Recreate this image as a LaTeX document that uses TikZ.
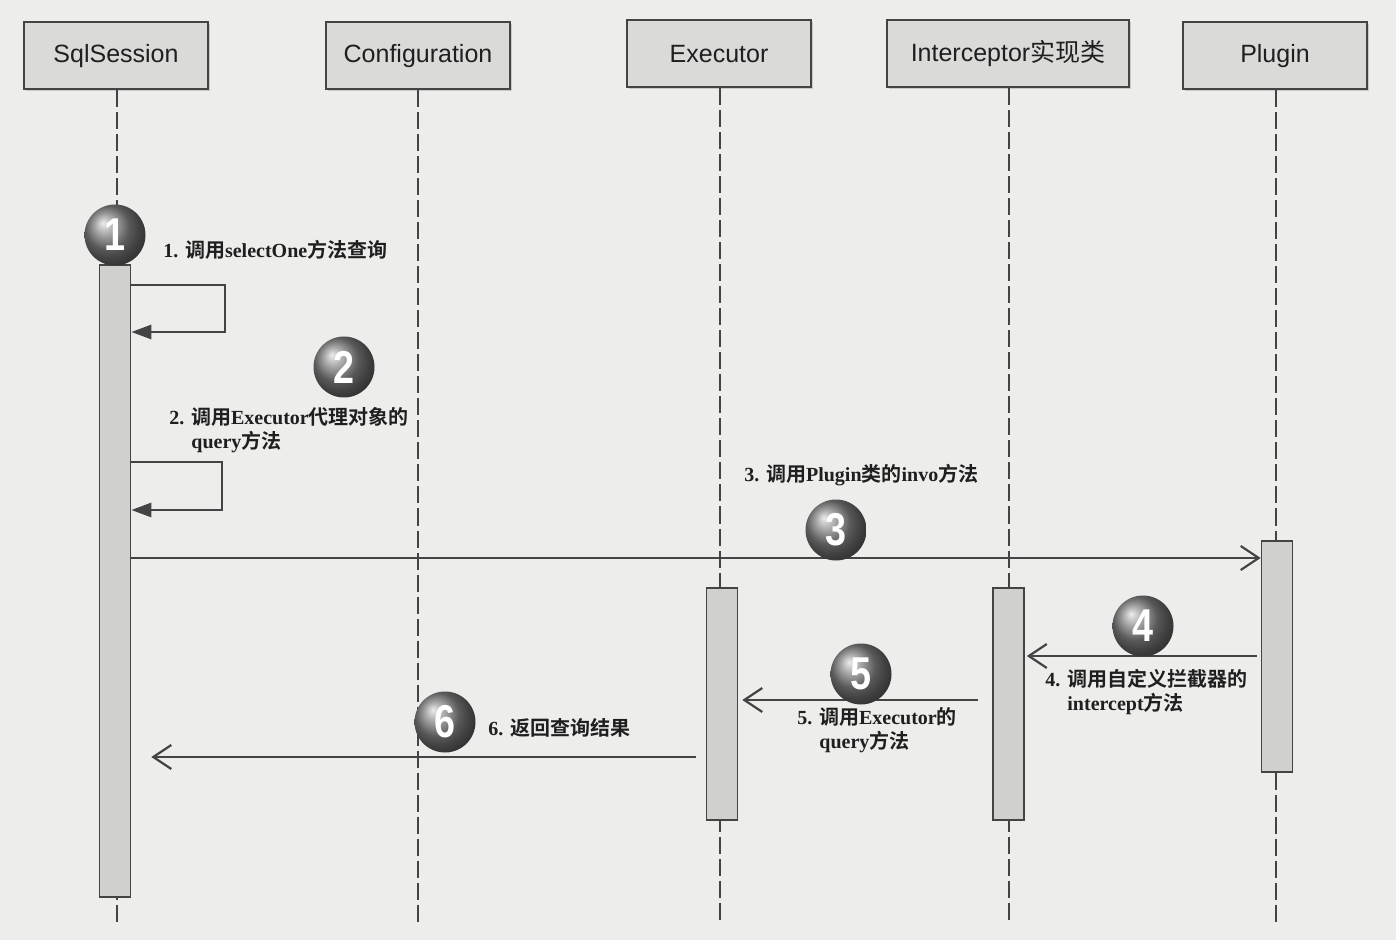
\documentclass[tikz,border=0pt]{standalone}
\usepackage{fontspec}
\setmainfont{Liberation Serif}
\setsansfont{Liberation Sans}
\newfontfamily\cjkfont{Noto Sans CJK SC}[BoldFont={Noto Sans CJK SC Bold}]
\newcommand{\hanzi}[1]{{\cjkfont #1}}
\newcommand{\ballnum}[1]{\scalebox{0.82}[1]{#1}}
\usepackage{tikz}
\usetikzlibrary{calc}
\usetikzlibrary{positioning}
\usetikzlibrary{shadows}
\usetikzlibrary{arrows.meta}
\definecolor{paper}{RGB}{237,237,235}
\definecolor{headgray}{RGB}{218,218,217}
\definecolor{bargray}{RGB}{208,208,207}
\definecolor{linegray}{RGB}{68,68,68}
\tikzset{
  head_node/.style = {rectangle, draw=linegray, fill=headgray, line width=1pt,
    minimum width=92pt, minimum height=33.5pt, text=black!88,
    font=\sffamily\fontsize{12.5}{14}\selectfont,
    drop shadow={shadow xshift=1pt, shadow yshift=-1pt, fill=black!35}},
  bar_node/.style = {rectangle, draw=linegray, fill=bargray, line width=0.8pt,
    minimum width=15.5pt, inner sep=0pt},
  ball_node/.style = {circle, ball color=black!50, minimum size=30.5pt,
    inner sep=0pt, text=white, font=\sffamily\bfseries\fontsize{23}{23}\selectfont},
  msg_label/.style = {anchor=west, align=left, inner sep=0pt, text=black!88,
    font=\bfseries\fontsize{10}{12}\selectfont},
  life_line/.style = {draw=linegray, line width=1pt, dash pattern=on 8.5pt off 2.5pt},
  call_line/.style = {draw=linegray, line width=1.4pt},
  open_tip/.style = {-{Straight Barb[length=9pt, width=12pt, line width=1.1pt]}},
  fill_tip/.style = {-{Triangle[length=10pt, width=7pt]}}
}
\begin{document}
\begin{tikzpicture}[x=0.5pt, y=-0.5pt]
  \useasboundingbox (0,0) rectangle (1396,940);
  \fill[paper] (0,0) rectangle (1396,940);

  \node[head_node] (sql session) at (116,56) {SqlSession};
  \node[head_node] (configuration) at (418,56) {Configuration};
  \node[head_node] (executor) at (719,54) {Executor};
  \node[head_node, minimum width=121pt] (interceptor) at (1008,54) {Interceptor\hanzi{实现类}};
  \node[head_node] (plugin) at (1275,56) {Plugin};

  \coordinate (sql end) at (117,922);
  \coordinate (configuration end) at (418,922);
  \coordinate (executor end) at (720,922);
  \coordinate (interceptor end) at (1009,922);
  \coordinate (plugin end) at (1276,922);
  \draw[life_line] (sql session.south -| sql end) -- (sql end);
  \draw[life_line] (configuration.south) -- (configuration end);
  \draw[life_line] (executor.south -| executor end) -- (executor end);
  \draw[life_line] (interceptor.south -| interceptor end) -- (interceptor end);
  \draw[life_line] (plugin.south -| plugin end) -- (plugin end);

  \node[bar_node, minimum height=316pt] (sql bar) at (115,581) {};
  \node[bar_node, minimum height=116pt] (executor bar) at (722,704) {};
  \node[bar_node, minimum height=116pt] (interceptor bar) at (1008.5,704) {};
  \node[bar_node, minimum height=115.5pt] (plugin bar) at (1277,656.5) {};

  \draw[call_line, fill_tip] (sql bar.east |- 0,285) -| (225,332) -- (sql bar.east |- 0,332);
  \draw[call_line, fill_tip] (sql bar.east |- 0,462) -| (222,510) -- (sql bar.east |- 0,510);
  \draw[call_line, open_tip] (sql bar.east |- 0,558) -- (plugin bar.west |- 0,558);
  \draw[call_line, open_tip, shorten <=2pt, shorten >=1pt] (plugin bar.west |- 0,656) -- (interceptor bar.east |- 0,656);
  \draw[call_line, open_tip, shorten <=7pt, shorten >=2pt] (interceptor bar.west |- 0,700) -- (executor bar.east |- 0,700);
  \draw[call_line, open_tip, shorten <=5pt, shorten >=10pt] (executor bar.west |- 0,757) -- (sql bar.east |- 0,757);

  \node[ball_node] (ball 1) at (115,235) {\ballnum{1}};
  \node[ball_node] (ball 2) at (344,367) {\ballnum{2}};
  \node[ball_node] (ball 3) at (836,530) {\ballnum{3}};
  \node[ball_node] (ball 4) at (1143,626) {\ballnum{4}};
  \node[ball_node] (ball 5) at (861,674) {\ballnum{5}};
  \node[ball_node] (ball 6) at (445,722) {\ballnum{6}};

  \node[msg_label] (label 1) at (163,250) {1. \hanzi{调用}selectOne\hanzi{方法查询}};
  \node[msg_label] (label 2) at (169,430) {2. \hanzi{调用}Executor\hanzi{代理对象的}\\\hspace{11pt}query\hanzi{方法}};
  \node[msg_label] (label 3) at (744,475) {3. \hanzi{调用}Plugin\hanzi{类的}invo\hanzi{方法}};
  \node[msg_label] (label 4) at (1045,692) {4. \hanzi{调用自定义拦截器的}\\\hspace{11pt}intercept\hanzi{方法}};
  \node[msg_label] (label 5) at (797,730) {5. \hanzi{调用}Executor\hanzi{的}\\\hspace{11pt}query\hanzi{方法}};
  \node[msg_label] (label 6) at (488,728) {6. \hanzi{返回查询结果}};
\end{tikzpicture}
\end{document}
